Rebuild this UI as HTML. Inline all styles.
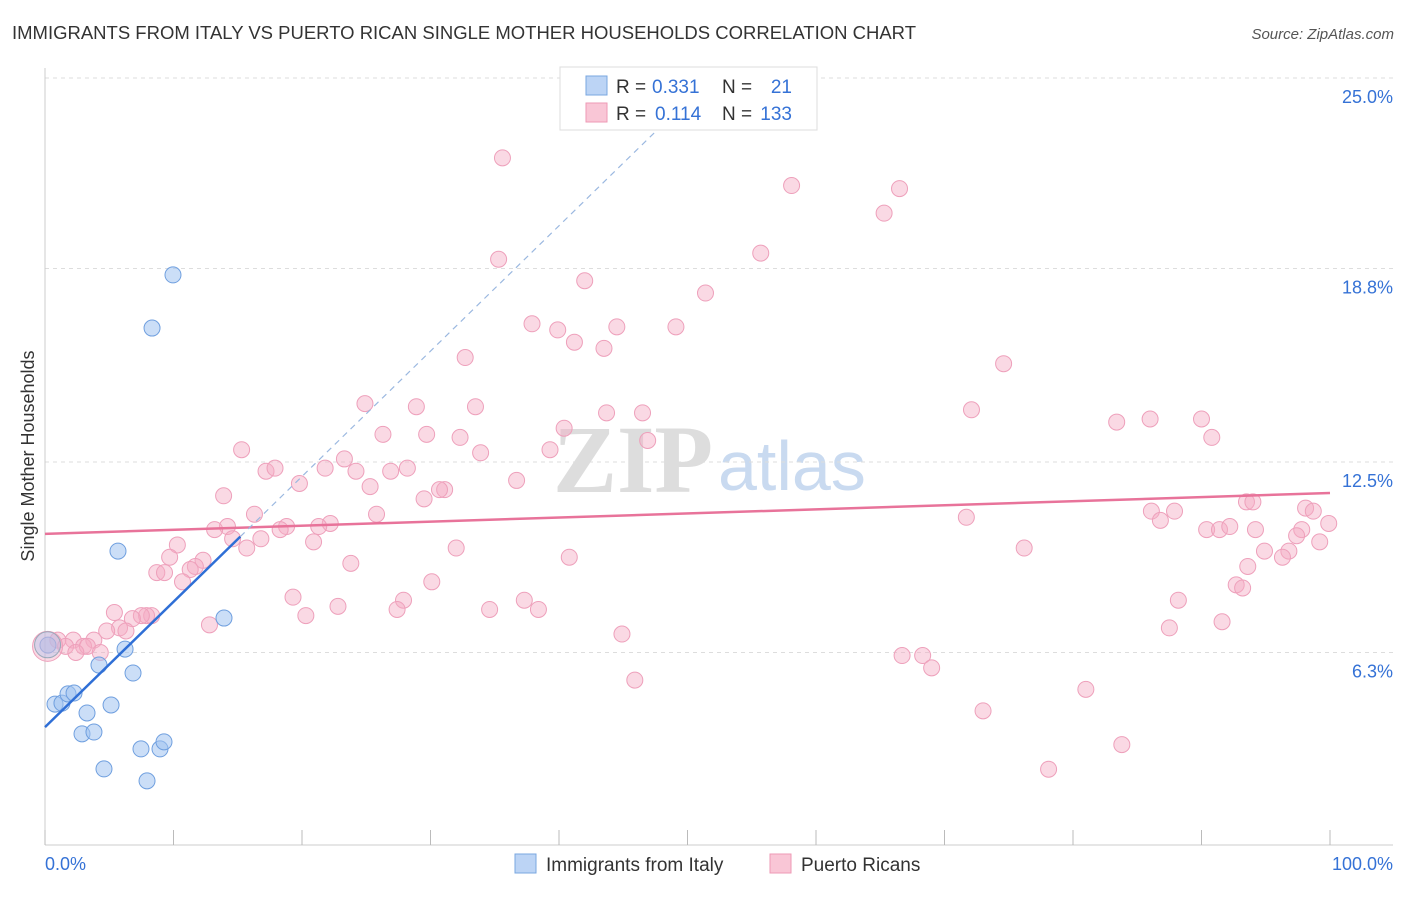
<!DOCTYPE html>
<html><head><meta charset="utf-8"><style>
body{margin:0;background:#fff;font-family:"Liberation Sans",sans-serif}
</style></head><body>
<svg id="chart" width="1406" height="892" viewBox="0 0 1406 892" xmlns="http://www.w3.org/2000/svg" font-family="Liberation Sans, sans-serif">
<text x="12" y="39" font-size="18" fill="#333" textLength="904" lengthAdjust="spacingAndGlyphs">IMMIGRANTS FROM ITALY VS PUERTO RICAN SINGLE MOTHER HOUSEHOLDS CORRELATION CHART</text>
<text x="1394" y="39" font-size="15" fill="#555" text-anchor="end" font-style="italic">Source: ZipAtlas.com</text>
<g>
<text x="553" y="492" font-size="96" fill="#ddd" font-family="Liberation Serif, serif" font-weight="bold">ZIP</text>
<text x="718" y="490" font-size="70" fill="#c9daf0">atlas</text>
</g>
<g id="grid"></g>
<g id="axes"></g>
<g id="marks"></g>
<text transform="translate(34,456) rotate(-90)" font-size="18" fill="#333" text-anchor="middle">Single Mother Households</text>
<g>
<rect x="560" y="67" width="257" height="63" fill="#fff" stroke="#ddd"/>
<rect x="586" y="76" width="21" height="19" fill="#bcd4f5" stroke="#7aa7e0"/>
<rect x="586" y="103" width="21" height="19" fill="#f9c6d6" stroke="#ee9ab5"/>
<text x="616" y="93" font-size="19" fill="#333">R =</text>
<text x="652" y="93" font-size="19" fill="#3572d6">0.331</text>
<text x="722" y="93" font-size="19" fill="#333">N =</text>
<text x="792" y="93" font-size="19" fill="#3572d6" text-anchor="end">21</text>
<text x="616" y="120" font-size="19" fill="#333">R =</text>
<text x="655" y="120" font-size="19" fill="#3572d6">0.114</text>
<text x="722" y="120" font-size="19" fill="#333">N =</text>
<text x="792" y="120" font-size="19" fill="#3572d6" text-anchor="end">133</text>
</g>
<g>
<rect x="515" y="854" width="21" height="19" fill="#bcd4f5" stroke="#7aa7e0"/>
<text x="546" y="871" font-size="19" fill="#333">Immigrants from Italy</text>
<rect x="770" y="854" width="21" height="19" fill="#f9c6d6" stroke="#ee9ab5"/>
<text x="801" y="871" font-size="19" fill="#333">Puerto Ricans</text>
</g>
</svg>
<script>
const yTicks=[25.0,18.8,12.5,6.3];
const yTickLabels=["25.0%","18.8%","12.5%","6.3%"];
const xTickLabels=["0.0%","100.0%"];
const italyX=[0.23,0.78,1.32,1.79,2.26,3.27,2.88,3.81,4.20,4.59,5.14,5.68,6.23,6.85,7.47,7.94,8.95,9.26,8.33,9.96,13.93];
const italyY=[6.54,4.62,4.65,4.95,4.98,4.33,3.65,3.71,5.89,2.51,4.59,9.60,6.41,5.63,3.16,2.12,3.16,3.39,16.86,18.59,7.42];
const prX=[35.6,58.1,66.5,65.3,55.7,35.3,42.0,51.4,37.9,39.9,44.5,49.1,41.2,43.5,32.7,74.6,24.9,28.9,33.5,43.7,46.5,72.1,86.0,83.4,90.0,40.4,26.3,29.7,32.3,46.9,90.8,39.3,33.9,15.3,23.3,28.2,21.8,24.2,17.2,17.9,26.9,36.7,19.8,25.3,31.1,30.7,13.9,29.5,93.5,94.0,98.1,98.7,25.8,16.3,86.1,87.9,71.7,86.8,99.9,18.8,22.2,21.3,14.2,13.2,18.3,90.4,91.4,92.2,94.2,97.8,97.4,14.6,16.8,20.9,99.2,10.3,15.7,32.0,76.2,94.9,96.8,96.3,9.7,40.8,23.8,12.3,11.7,11.3,8.7,9.3,93.6,10.7,30.1,92.7,93.2,19.3,27.9,88.2,37.3,22.8,27.4,34.6,38.4,5.4,20.3,8.3,7.9,7.5,6.8,12.8,91.6,5.8,4.8,87.5,6.3,44.9,3.8,2.2,1.0,1.6,3.0,3.3,4.3,2.4,66.7,68.3,69.0,45.9,81.0,73.0,83.8,78.1];
const prY=[22.4,21.5,21.4,20.6,19.3,19.1,18.4,18.0,17.0,16.8,16.9,16.9,16.4,16.2,15.9,15.7,14.4,14.3,14.3,14.1,14.1,14.2,13.9,13.8,13.9,13.6,13.4,13.4,13.3,13.2,13.3,12.9,12.8,12.9,12.6,12.3,12.3,12.2,12.2,12.3,12.2,11.9,11.8,11.7,11.6,11.6,11.4,11.3,11.2,11.2,11.0,10.9,10.8,10.8,10.9,10.9,10.7,10.6,10.5,10.4,10.5,10.4,10.4,10.3,10.3,10.3,10.3,10.4,10.3,10.3,10.1,10.0,10.0,9.9,9.9,9.8,9.7,9.7,9.7,9.6,9.6,9.4,9.4,9.4,9.2,9.3,9.1,9.0,8.9,8.9,9.1,8.6,8.6,8.5,8.4,8.1,8.0,8.0,8.0,7.8,7.7,7.7,7.7,7.6,7.5,7.5,7.5,7.5,7.4,7.2,7.3,7.1,7.0,7.1,7.0,6.9,6.7,6.7,6.7,6.5,6.5,6.5,6.3,6.3,6.2,6.2,5.8,5.4,5.1,4.4,3.3,2.5];
const italyTrend=[3.87,0.408];
const prTrend=[10.16,11.49];
const NS="http://www.w3.org/2000/svg";
const X=v=>45+v*12.85, Y=v=>78+(25-v)*30.72;
function mk(tag,attrs,parent){const e=document.createElementNS(NS,tag);for(const k in attrs)e.setAttribute(k,attrs[k]);document.getElementById(parent).appendChild(e);return e;}
yTicks.forEach((t,i)=>{
 const g=mk('line',{x1:45,x2:1393,y1:Y(t),y2:Y(t),stroke:'#ddd','stroke-dasharray':'4,4'},'grid');
 
 
 const l=mk('text',{x:1393,y:Y(t)+25,'font-size':18,fill:'#3572d6','text-anchor':'end'},'axes');l.textContent=yTickLabels[i];
 
 
});
const ax=mk('line',{x1:45,x2:1393,y1:845,y2:845,stroke:'#ccc'},'axes');


const ay=mk('line',{x1:45,x2:45,y1:68,y2:845,stroke:'#ccc'},'axes');


for(let i=0;i<=10;i++){const t=mk('line',{x1:X(i*10),x2:X(i*10),y1:830,y2:845,stroke:'#bbb'},'axes');
 
 }
[[0,'start',45],[1,'end',1393]].forEach(([i,a,x])=>{const l=mk('text',{x:x,y:870,'font-size':18,fill:'#3572d6','text-anchor':a},'axes');l.textContent=xTickLabels[i];
 
 });
prX.forEach((x,i)=>{const c=mk('circle',{cx:X(x),cy:Y(prY[i]),r:8,fill:'rgba(244,170,195,0.45)',stroke:'#eea0bb','stroke-width':1},'marks');
 
 });
italyX.forEach((x,i)=>{const c=mk('circle',{cx:X(x),cy:Y(italyY[i]),r:8,fill:'rgba(160,195,240,0.55)',stroke:'#6f9fdf','stroke-width':1},'marks');
 
 });
const b1=mk('circle',{cx:X(0.2),cy:Y(6.5),r:15,fill:'rgba(244,170,195,0.45)',stroke:'#eea0bb'},'marks');


const b2=mk('circle',{cx:X(0.2),cy:Y(6.55),r:13,fill:'rgba(160,195,240,0.35)',stroke:'#9ab'},'marks');


const pl=mk('line',{x1:X(0),y1:Y(prTrend[0]),x2:X(100),y2:Y(prTrend[1]),stroke:'#e8739a','stroke-width':2.5},'marks');


const iy=x=>italyTrend[0]+italyTrend[1]*x;
const il=mk('line',{x1:X(0),y1:Y(iy(0)),x2:X(15.2),y2:Y(iy(15.2)),stroke:'#2f6fd6','stroke-width':2.5},'marks');


const xe=(25.5-italyTrend[0])/italyTrend[1]*0.94;
const id=mk('line',{x1:X(15.2),y1:Y(iy(15.2)),x2:X(xe),y2:Y(iy(xe)),stroke:'#9bb8e0','stroke-width':1.2,'stroke-dasharray':'6,5'},'marks');


</script>
</body></html>
